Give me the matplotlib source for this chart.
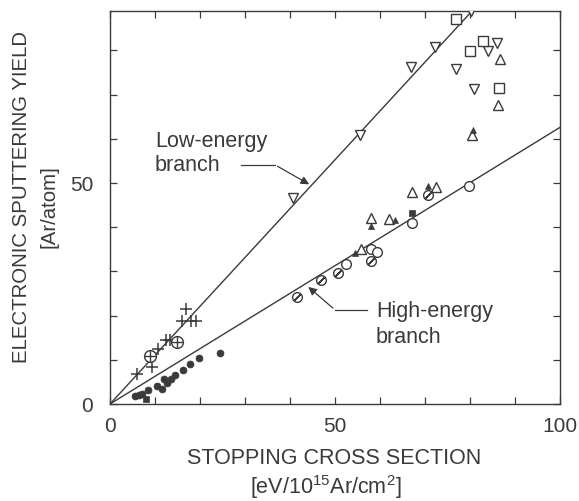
import matplotlib
matplotlib.use("Agg")
import matplotlib.pyplot as plt
from matplotlib.ticker import FixedFormatter, FixedLocator

plt.rcParams['font.family'] = ['Liberation Sans', 'DejaVu Sans']
plt.rcParams['mathtext.default'] = 'regular'

INK = '#3a3a3a'

# ---- data ----
plus_x = [5.9, 9.3, 10.7, 12.4, 13.3, 16.1, 16.8, 18.0, 19.0]
plus_y = [6.9, 8.3, 12.4, 14.5, 14.5, 18.8, 21.4, 18.8, 18.8]

crossc_x = [8.8, 14.9]
crossc_y = [10.8, 14.1]

fcirc_x = [5.6, 6.5, 7.2, 8.5, 10.4, 11.5, 12.0, 12.6, 13.5, 14.4, 16.3, 17.8, 19.7, 24.4]
fcirc_y = [1.8, 2.0, 2.3, 3.2, 4.1, 3.5, 5.6, 4.7, 5.7, 6.6, 7.7, 9.0, 10.3, 11.6]

fsq_x = [8.0, 67.0]
fsq_y = [1.2, 43.3]

dtri_x = [40.6, 55.6, 66.8, 72.2, 76.8, 80.9, 84.1, 85.9, 80.2]
dtri_y = [46.7, 60.8, 76.3, 80.7, 75.8, 71.3, 79.9, 81.8, 88.9]

osq_x = [76.8, 82.8, 80.0, 86.4]
osq_y = [87.1, 82.2, 79.9, 71.4]

utri_x = [55.7, 57.9, 61.9, 67.0, 72.4, 86.7, 86.2, 80.4]
utri_y = [35.1, 42.2, 41.8, 48.0, 49.2, 78.1, 67.6, 60.9]

ftri_x = [54.4, 57.9, 63.3, 70.7, 80.7]
ftri_y = [34.2, 40.3, 41.6, 49.3, 62.1]

ocirc_x = [52.4, 57.9, 59.3, 67.0, 79.8]
ocirc_y = [31.6, 35.0, 34.5, 41.0, 49.4]

scirc_x = [41.5, 46.9, 50.7, 58.1, 70.6]
scirc_y = [24.1, 28.1, 29.7, 32.4, 47.4]

low_line_x = [0, 80.7]
low_line_y = [0, 89.2]
high_line_x = [0, 100]
high_line_y = [0, 62.6]

x_ticks = [0, 10, 20, 30, 40, 50, 60, 70, 80, 90, 100]
x_ticklabels = ['0', '', '', '', '', '50', '', '', '', '', '100']
y_ticks = [0, 10, 20, 30, 40, 50, 60, 70, 80]
y_ticklabels = ['0', '', '', '', '', '50', '', '', '']

# ---- figure ----
fig = plt.figure(figsize=(5.79, 5.01), dpi=100)
ax = fig.add_axes([110/579, 1-404/501, 450/579, (404-10.7)/501])
ax.set_xlim(0, 100)
ax.set_ylim(0, 89)

lw = 1.0
ax.plot(low_line_x, low_line_y, color=INK, lw=lw, zorder=2)
ax.plot(high_line_x, high_line_y, color=INK, lw=lw, zorder=2)

mk = dict(linestyle='none', color=INK, zorder=3)
ax.plot(plus_x, plus_y, marker='+', ms=9, mew=1.1, **mk)
ax.plot(crossc_x, crossc_y, marker='o', ms=8.5, mfc='white', mew=1.0, **mk)
ax.plot(crossc_x, crossc_y, marker='+', ms=8.5, mew=1.0, **mk)
ax.plot(fcirc_x, fcirc_y, marker='o', ms=5, mew=0.5, **mk)
ax.plot(fsq_x, fsq_y, marker='s', ms=5, mew=0.5, **mk)
ax.plot(dtri_x, dtri_y, marker='v', ms=7.5, mfc='white', mew=1.0, **mk)
ax.plot(osq_x, osq_y, marker='s', ms=7, mfc='white', mew=1.0, **mk)
ax.plot(utri_x, utri_y, marker='^', ms=7.5, mfc='white', mew=1.0, **mk)
ax.plot(ftri_x, ftri_y, marker='^', ms=4.5, mew=0.5, **mk)
ax.plot(ocirc_x, ocirc_y, marker='o', ms=7, mfc='white', mew=1.0, **mk)
ax.plot(scirc_x, scirc_y, marker='o', ms=7, mfc='white', mew=1.0, **mk)
ax.plot(scirc_x, scirc_y, marker=(2, 2, -45), ms=6, mew=1.0, **mk)

# ticks
ax.xaxis.set_major_locator(FixedLocator(x_ticks))
ax.xaxis.set_major_formatter(FixedFormatter(x_ticklabels))
ax.yaxis.set_major_locator(FixedLocator(y_ticks))
ax.yaxis.set_major_formatter(FixedFormatter(y_ticklabels))
ax.tick_params(direction='in', length=5, width=0.9, color=INK, labelcolor=INK,
               labelsize=15, top=True, right=True, pad=9)
ax.tick_params(axis='y', pad=12)
for s in ax.spines.values():
    s.set_color(INK)
    s.set_linewidth(1.0)

# annotations
arrow = dict(arrowstyle='-|>', color=INK, lw=0.9, mutation_scale=12)
ax.annotate('', xy=(44.8, 49.4), xytext=(36.7, 54.1), arrowprops=arrow, zorder=4)
ax.plot([29.0, 36.7], [54.1, 54.1], color=INK, lw=0.9)
ax.text(10.0, 58.1, 'Low-energy', fontsize=15.5, color=INK, va='baseline', ha='left')
ax.text(10.0, 52.7, 'branch', fontsize=15.5, color=INK, va='baseline', ha='left')

ax.annotate('', xy=(43.6, 26.9), xytext=(50.0, 21.3), arrowprops=arrow, zorder=4)
ax.plot([50.0, 57.1], [21.3, 21.3], color=INK, lw=0.9)
ax.text(59.1, 19.75, 'High-energy', fontsize=15.5, color=INK, va='baseline', ha='left')
ax.text(59.1, 13.9, 'branch', fontsize=15.5, color=INK, va='baseline', ha='left')

# axis labels
fig.text(22/579, 1-197/501, 'ELECTRONIC SPUTTERING YIELD', rotation=90, fontsize=14.7,
         color=INK, ha='center', va='center')
fig.text(49/579, 1-207/501, '[Ar/atom]', rotation=90, fontsize=14.7,
         color=INK, ha='center', va='center')
fig.text(334.5/579, 1-459/501, 'STOPPING CROSS SECTION', fontsize=15.5,
         color=INK, ha='center', va='center')
fig.text(326/579, 1-487/501, r'[eV/10$^{15}$Ar/cm$^{2}$]', fontsize=15.5,
         color=INK, ha='center', va='center')

fig.savefig('out.png', dpi=100, facecolor='white')
